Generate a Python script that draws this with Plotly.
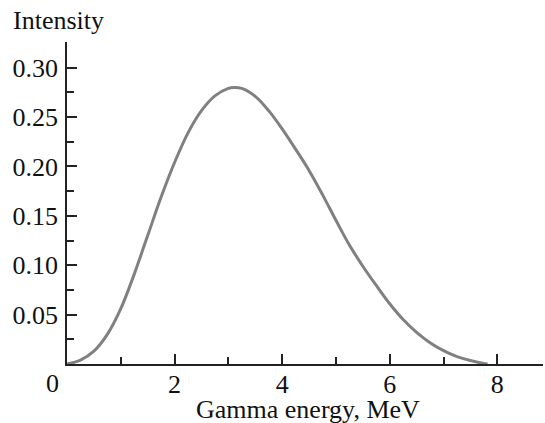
import plotly.graph_objects as go

# Data
energy = [0.0, 0.25, 0.5, 0.75, 1.0, 1.25, 1.5, 1.75, 2.0, 2.25, 2.5, 2.75, 3.0, 3.1,
          3.25, 3.5, 3.75, 4.0, 4.25, 4.5, 4.75, 5.0, 5.25, 5.5, 5.75, 6.0, 6.25, 6.5,
          6.75, 7.0, 7.25, 7.5, 7.75, 7.82]
intensity = [0.0, 0.004, 0.013, 0.030, 0.056, 0.091, 0.130, 0.169, 0.204, 0.234, 0.2565,
             0.2715, 0.2790, 0.2800, 0.2790, 0.2710, 0.2565, 0.2380, 0.2175, 0.1960, 0.1715,
             0.1455, 0.1205, 0.0990, 0.0795, 0.0610, 0.0450, 0.0320, 0.0215, 0.0135, 0.0075,
             0.0035, 0.0005, 0.0]

x_tickvals = [2, 4, 6, 8]
x_ticktext = ["2", "4", "6", "8"]
y_tickvals = [0.05, 0.10, 0.15, 0.20, 0.25, 0.30]
y_ticktext = ["0.05", "0.10", "0.15", "0.20", "0.25", "0.30"]

FONT = "Liberation Serif"
FS = 26
AX = "#222222"

fig = go.Figure()
fig.add_trace(go.Scatter(x=energy, y=intensity, mode="lines",
                         line=dict(color="#808080", width=3, shape="spline", smoothing=1.0),
                         hoverinfo="skip", showlegend=False))

L, R, T, B = 67, 2, 42, 59
W, H = 545, 423
pw, ph = W - L - R, H - T - B

fig.update_layout(
    width=W, height=H,
    margin=dict(l=L, r=R, t=T, b=B),
    paper_bgcolor="white", plot_bgcolor="white",
    font=dict(family=FONT, size=FS, color="#111111"),
    xaxis=dict(range=[0, 8.85], showgrid=False, zeroline=False, automargin=False,
               showline=True, linecolor=AX, linewidth=1.5,
               tickmode="array", tickvals=x_tickvals, ticktext=x_ticktext,
               ticks="inside", ticklen=10, tickwidth=1.5, tickcolor=AX,
               ticklabelstandoff=-4,
               minor=dict(tickvals=[1, 3, 5, 7], ticks="inside", ticklen=7,
                          tickwidth=1.5, tickcolor=AX)),
    yaxis=dict(range=[0, 0.326], showgrid=False, zeroline=False, automargin=False,
               showline=True, linecolor=AX, linewidth=1.5,
               tickmode="array", tickvals=y_tickvals, ticktext=y_ticktext,
               ticks="inside", ticklen=10, tickwidth=1.5, tickcolor=AX,
               ticklabelstandoff=2,
               minor=dict(tickvals=[0.025, 0.075, 0.125, 0.175, 0.225, 0.275, 0.325],
                          ticks="inside", ticklen=7, tickwidth=1.5, tickcolor=AX)),
)

def px_to_paper(xp, yp):
    return (xp - L) / pw, (H - B - yp) / ph

ix, iy = px_to_paper(11, 21)
fig.add_annotation(text="Intensity", xref="paper", yref="paper", x=ix, y=iy,
                   xanchor="left", yanchor="middle", showarrow=False,
                   font=dict(family=FONT, size=FS, color="#111111"))
gx, gy = px_to_paper(308, 409)
fig.add_annotation(text="Gamma energy, MeV", xref="paper", yref="paper", x=gx, y=gy,
                   xanchor="center", yanchor="middle", showarrow=False,
                   font=dict(family=FONT, size=FS, color="#111111"))
zx, zy = px_to_paper(52, 383)
fig.add_annotation(text="0", xref="paper", yref="paper", x=zx, y=zy,
                   xanchor="center", yanchor="middle", showarrow=False,
                   font=dict(family=FONT, size=FS, color="#111111"))

fig.write_html("out.html", config={"displayModeBar": False},
               post_script="document.body.style.margin='0';document.body.style.overflow='hidden';")
